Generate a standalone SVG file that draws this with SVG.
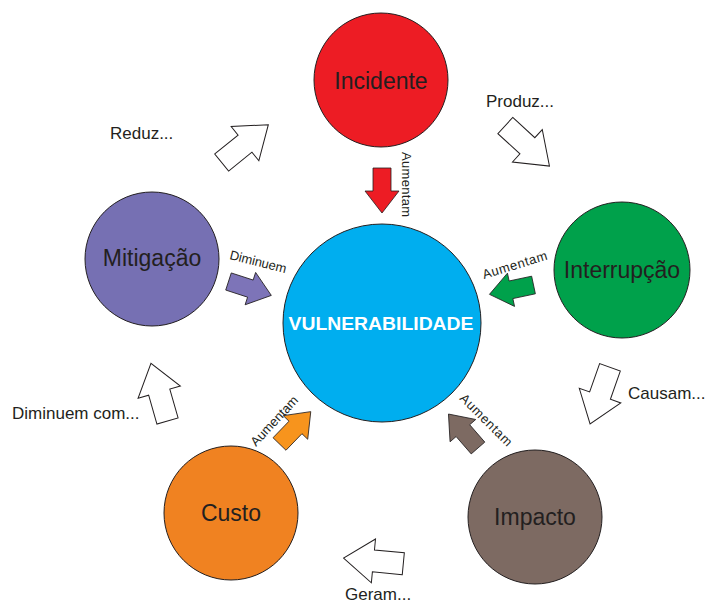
<svg xmlns="http://www.w3.org/2000/svg" width="707" height="603" viewBox="0 0 707 603">
  <defs>
    <!-- block arrow shapes, pointing along +x, origin at tail middle -->
    <path id="bigArrow" d="M0,-11 H30 V-22 L60,0 L30,22 V11 H0 Z"/>
    <path id="smallArrow" d="M0,-9 H23 V-17 L45,0 L23,17 V9 H0 Z"/>
  </defs>
  <style>
    .node { stroke: #231f20; stroke-width: 1; }
    .ntext { font-family: "Liberation Sans", Arial, sans-serif; font-size: 23px; fill: #231f20; text-anchor: middle; }
    .label { font-family: "Liberation Sans", Arial, sans-serif; font-size: 17px; fill: #231f20; }
    .small { font-family: "Liberation Sans", Arial, sans-serif; font-size: 13px; fill: #231f20; }
    .outline { fill: #ffffff; stroke: #231f20; stroke-width: 1; }
    .solid { stroke: #231f20; stroke-width: 0.8; }
  </style>
  <rect width="707" height="603" fill="#ffffff"/>

  <g id="connectors">
    <!-- cycle arrows between outer nodes -->
    <use href="#bigArrow" class="outline" transform="translate(221.7,162.5) rotate(-39)"/>
    <use href="#bigArrow" class="outline" transform="translate(505.3,125.5) rotate(42.6)"/>
    <use href="#bigArrow" class="outline" transform="translate(610,367.3) rotate(109.4)"/>
    <use href="#bigArrow" class="outline" transform="translate(403.3,563.7) rotate(185.4)"/>
    <use href="#bigArrow" class="outline" transform="translate(167.5,421) rotate(-106)"/>
    <text class="label" x="110" y="139">Reduz...</text>
    <text class="label" x="486" y="107">Produz...</text>
    <text class="label" x="628" y="399">Causam...</text>
    <text class="label" x="345" y="600">Geram...</text>
    <text class="label" x="12" y="419">Diminuem com...</text>

    <!-- arrows into the centre -->
    <use href="#smallArrow" class="solid" fill="#ed1c24" transform="translate(382,168) rotate(90)"/>
    <use href="#smallArrow" class="solid" fill="#00a14b" transform="translate(533.5,285) rotate(168)"/>
    <use href="#smallArrow" class="solid" fill="#7d74b8" transform="translate(228.5,281.5) rotate(18)"/>
    <use href="#smallArrow" class="solid" fill="#f7941d" transform="translate(279.5,444) rotate(-46)"/>
    <use href="#smallArrow" class="solid" fill="#7d6a62" transform="translate(478,448) rotate(-131)"/>
    <text class="small" transform="translate(402,152) rotate(90)" textLength="65">Aumentam</text>
    <text class="small" transform="translate(484,279) rotate(-17)" textLength="67">Aumentam</text>
    <text class="small" transform="translate(229,259) rotate(14)" textLength="58">Diminuem</text>
    <text class="small" transform="translate(256,447) rotate(-47)" textLength="63">Aumentam</text>
    <text class="small" transform="translate(459,399) rotate(45)" textLength="68">Aumentam</text>
  </g>

  <g id="vulnerabilidade">
    <circle class="node" cx="382" cy="323" r="99" fill="#00aeef"/>
    <text x="381" y="330" text-anchor="middle" font-family="Liberation Sans, Arial, sans-serif" font-weight="bold" font-size="19" fill="#ffffff" textLength="185" lengthAdjust="spacingAndGlyphs">VULNERABILIDADE</text>
  </g>
  <g id="incidente">
    <circle class="node" cx="381" cy="80" r="67" fill="#ed1c24"/>
    <text class="ntext" x="381" y="89">Incidente</text>
  </g>
  <g id="interrupcao">
    <circle class="node" cx="622" cy="270" r="68" fill="#00a14b"/>
    <text class="ntext" x="622" y="278">Interrupção</text>
  </g>
  <g id="impacto">
    <circle class="node" cx="535" cy="517" r="67" fill="#7d6a62"/>
    <text class="ntext" x="535" y="525">Impacto</text>
  </g>
  <g id="custo">
    <circle class="node" cx="231" cy="513" r="67" fill="#f08221"/>
    <text class="ntext" x="231" y="521">Custo</text>
  </g>
  <g id="mitigacao">
    <circle class="node" cx="152" cy="259" r="67" fill="#7670b3"/>
    <text class="ntext" x="152" y="266">Mitigação</text>
  </g>
</svg>
